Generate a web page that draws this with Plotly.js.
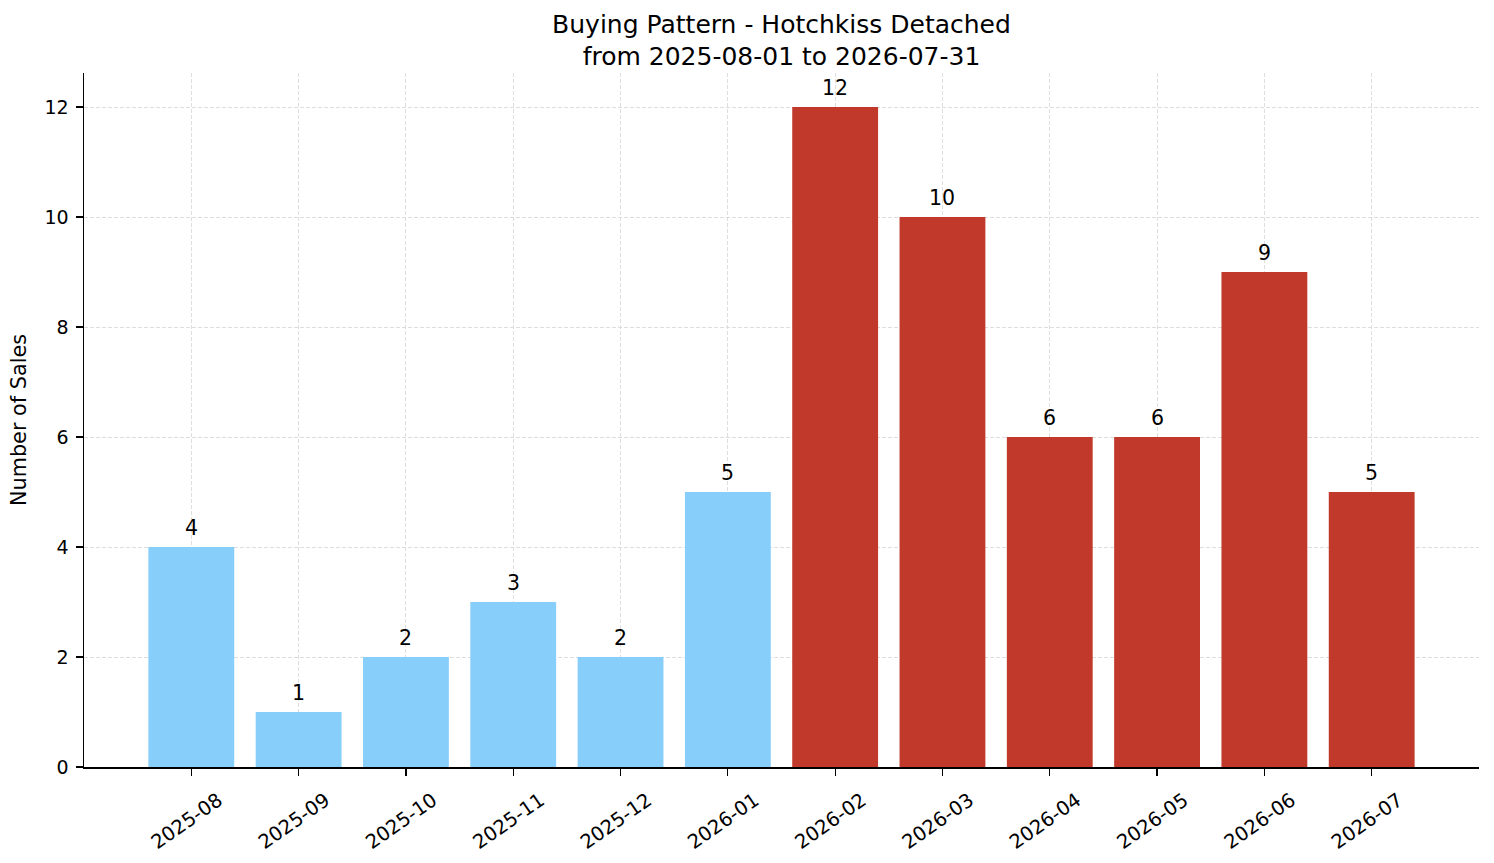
<!DOCTYPE html>
<html>
<head>
<meta charset="utf-8">
<script src="https://cdn.plot.ly/plotly-3.0.1.min.js"></script>
<style>
  html, body { margin: 0; padding: 0; background: #fff; }
  #chart { width: 1494px; height: 863px; }
</style>
</head>
<body>
<div id="chart"></div>
<script>
// monthly sales counts
const months = ["2025-08", "2025-09", "2025-10", "2025-11", "2025-12", "2026-01",
                "2026-02", "2026-03", "2026-04", "2026-05", "2026-06", "2026-07"];
const sales = [4, 1, 2, 3, 2, 5, 12, 10, 6, 6, 9, 5];
const periods = ["past", "past", "past", "past", "past", "past",
                 "future", "future", "future", "future", "future", "future"];

const periodColors = { past: "#87CEFA", future: "#C0392B" };
const font = "DejaVu Sans, sans-serif";

const trace = {
  x: months,
  y: sales,
  type: "bar",
  marker: { color: periods.map((p) => periodColors[p]), line: { width: 0 } },
  hoverinfo: "x+y",
};

// value labels above each bar
const labels = months.map((m, i) => ({
  x: m,
  y: sales[i],
  text: String(sales[i]),
  showarrow: false,
  yanchor: "bottom",
  yshift: 5,
  font: { family: font, size: 20.5, color: "#000" },
}));

const axisCommon = {
  showline: true,
  linecolor: "#000",
  linewidth: 1.5,
  ticks: "outside",
  ticklen: 7,
  tickwidth: 1.3,
  tickcolor: "#000",
  showgrid: true,
  gridcolor: "#d6d6d6",
  gridwidth: 0.8,
  griddash: "4px,2px",
  zeroline: false,
};

const layout = {
  width: 1494,
  height: 863,
  margin: { l: 84, r: 15, t: 73, b: 96 },
  paper_bgcolor: "#fff",
  plot_bgcolor: "#fff",
  showlegend: false,
  bargap: 0.2,
  font: { family: font, color: "#000" },
  title: {
    text: "Buying Pattern - Hotchkiss Detached<br>from 2025-08-01 to 2026-07-31",
    font: { family: font, size: 25, color: "#000" },
    x: 0.5,
    xref: "paper",
    y: 0.962,
    yref: "container",
    yanchor: "top",
  },
  xaxis: {
    ...axisCommon,
    type: "category",
    range: [-1, 12],
    tickangle: -35,
    ticklabelshift: 27,
    ticklabelstandoff: 6,
    tickfont: { family: font, size: 19.5, color: "#000" },
  },
  yaxis: {
    ...axisCommon,
    range: [0, 12.62],
    dtick: 2,
    ticklabelstandoff: 3,
    tickfont: { family: font, size: 19, color: "#000" },
    title: {
      text: "Number of Sales",
      font: { family: font, size: 20.8, color: "#000" },
      standoff: 12,
    },
  },
  annotations: labels,
};

Plotly.newPlot("chart", [trace], layout, { displayModeBar: false, staticPlot: true });
</script>
</body>
</html>
